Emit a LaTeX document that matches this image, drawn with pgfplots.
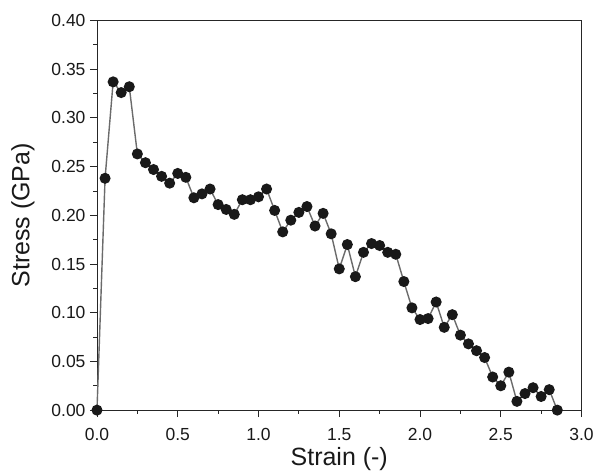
\documentclass[border=0pt]{standalone}
\usepackage{pgfplots}
\pgfplotsset{compat=1.18}
\usepackage{fontspec}
\setmainfont{Liberation Sans}
\begin{document}
\begin{tikzpicture}
\begin{axis}[
  scale only axis,
  width=485pt, height=390pt,
  xmin=0, xmax=3.0, ymin=0, ymax=0.40,
  xtick={0,0.5,...,3.0},
  ytick={0,0.05,...,0.40},
  minor x tick num=1, minor y tick num=1,
  tick align=outside,
  xtick pos=bottom, ytick pos=left,
  major tick length=7pt, minor tick length=3.5pt,
  tick style={black!85, line width=0.9pt},
  axis line style={black!85, line width=0.9pt},
  /pgf/number format/assume math mode=true,
  xticklabel style={/pgf/number format/.cd, fixed, fixed zerofill, precision=1},
  yticklabel style={/pgf/number format/.cd, fixed, fixed zerofill, precision=2},
  xticklabel shift=8pt, yticklabel shift=1pt,
  tick label style={font=\fontsize{17.5}{20}\selectfont, text=black!90},
  label style={font=\fontsize{25}{29}\selectfont, text=black!90},
  xlabel={Strain (-)}, ylabel={Stress (GPa)},
  xlabel shift=0pt, ylabel shift=10pt,
  clip=false,
]
\addplot[color=black!58, line width=1.4pt, mark=*, mark size=4.8pt,
  mark options={fill=black!90, draw=black!90}] coordinates {
(0.00,0.000) (0.05,0.238) (0.10,0.337) (0.15,0.326) (0.20,0.332)
(0.25,0.263) (0.30,0.254) (0.35,0.247) (0.40,0.240) (0.45,0.233)
(0.50,0.243) (0.55,0.239) (0.60,0.218) (0.65,0.222) (0.70,0.227)
(0.75,0.211) (0.80,0.206) (0.85,0.201) (0.90,0.216) (0.95,0.216)
(1.00,0.219) (1.05,0.227) (1.10,0.205) (1.15,0.183) (1.20,0.195)
(1.25,0.203) (1.30,0.209) (1.35,0.189) (1.40,0.202) (1.45,0.181)
(1.50,0.145) (1.55,0.170) (1.60,0.137) (1.65,0.162) (1.70,0.171)
(1.75,0.169) (1.80,0.162) (1.85,0.160) (1.90,0.132) (1.95,0.105)
(2.00,0.093) (2.05,0.094) (2.10,0.111) (2.15,0.085) (2.20,0.098)
(2.25,0.077) (2.30,0.068) (2.35,0.061) (2.40,0.054) (2.45,0.034)
(2.50,0.025) (2.55,0.039) (2.60,0.009) (2.65,0.017) (2.70,0.023)
(2.75,0.014) (2.80,0.021) (2.85,0.000)
};
\end{axis}
\path (current bounding box.south west) ++(-8pt,0pt);
\path (current bounding box.north east) ++(1pt,11pt);
\end{tikzpicture}
\end{document}
